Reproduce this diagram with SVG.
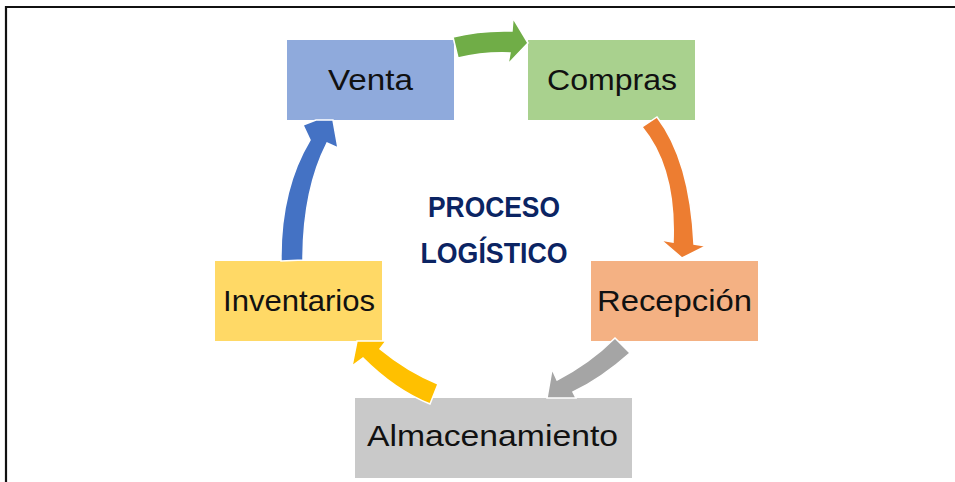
<svg xmlns="http://www.w3.org/2000/svg" width="955" height="482" viewBox="0 0 955 482">
<style>
.lbl{font-family:"Liberation Sans",Arial,sans-serif;font-size:30px;fill:#111;text-anchor:middle}
.ttl{font-family:"Liberation Sans",Arial,sans-serif;font-size:29px;font-weight:bold;fill:#0B2463;text-anchor:middle}
.arr{stroke:#fff;stroke-width:1.5;stroke-linejoin:miter}
</style>
<rect width="955" height="482" fill="#fff"/>
<g id="frame" stroke="#111" stroke-width="2.2" fill="none">
<line x1="6" y1="7" x2="955" y2="7"/>
<line x1="6" y1="6" x2="6" y2="482"/>
</g>
<g id="venta"><rect x="287" y="40" width="167" height="80" fill="#8FAADC"/><text class="lbl" x="370.5" y="90" textLength="85" lengthAdjust="spacingAndGlyphs">Venta</text></g>
<g id="compras"><rect x="528" y="40" width="167" height="80" fill="#A9D18E"/><text class="lbl" x="612" y="90" textLength="130" lengthAdjust="spacingAndGlyphs">Compras</text></g>
<g id="recepcion"><rect x="591" y="261" width="167" height="80" fill="#F4B183"/><text class="lbl" x="674.5" y="311" textLength="155" lengthAdjust="spacingAndGlyphs">Recepción</text></g>
<g id="almacenamiento"><rect x="355" y="398" width="277" height="80" fill="#C9C9C9"/><text class="lbl" x="492.5" y="446" textLength="251" lengthAdjust="spacingAndGlyphs">Almacenamiento</text></g>
<g id="inventarios"><rect x="215" y="261" width="167" height="80" fill="#FFD966"/><text class="lbl" x="299" y="311" textLength="152" lengthAdjust="spacingAndGlyphs">Inventarios</text></g>
<g id="title">
<text class="ttl" x="494" y="217" textLength="132" lengthAdjust="spacingAndGlyphs">PROCESO</text>
<text class="ttl" x="494" y="263" textLength="147" lengthAdjust="spacingAndGlyphs">LOGÍSTICO</text>
</g>
<g id="connectors">
<path class="arr" fill="#70AD47" d="M453,37 Q480,30 512,31 L513,18 L528,43 L508,64 L510,53 Q483,52 458,58 Z"/>
<path class="arr" fill="#ED7D31" d="M642,127 L657,117 Q690,160 694,244 L706,246 L682,258 L661,240 L673,242 Q676,168 642,127 Z"/>
<path class="arr" fill="#A5A5A5" d="M615,338 L630,353 Q602,378 573,392 L576,398 L547,398 L552,369 L557,380 Q590,363 615,338 Z"/>
<path class="arr" fill="#FFC000" d="M438,384 Q408,372 380,349 L386,341 L357,341 L352,366 L363,358 Q395,390 430,404 Z"/>
<path class="arr" fill="#4472C4" d="M281,261 Q280,190 310,140 L303,125 L316,120 L333,120 L338,148 L327,143 Q303,190 303,260 Z"/>
</g>
</svg>
